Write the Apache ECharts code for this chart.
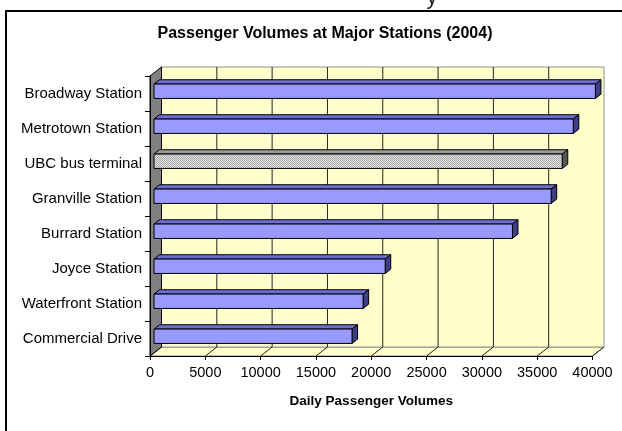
<!DOCTYPE html>
<html>
<head>
<meta charset="utf-8">
<script src="https://cdn.jsdelivr.net/npm/echarts@6/dist/echarts.min.js"></script>
<style>
  html, body { margin: 0; padding: 0; background: #fff; }
  #chart { width: 622px; height: 431px; }
</style>
</head>
<body>
<div id="chart"></div>
<script>
// data
const stations = [
    'Broadway Station',
    'Metrotown Station',
    'UBC bus terminal',
    'Granville Station',
    'Burrard Station',
    'Joyce Station',
    'Waterfront Station',
    'Commercial Drive'
]
const volumes = [39900, 37900, 36900, 35900, 32400, 20900, 18900, 17900]
const xMin = 0
const xMax = 40000
const xStep = 5000
const highlighted = 'UBC bus terminal'

const FONT = '"Liberation Sans", Arial, sans-serif'
// 3d depth offsets of the walls and of the bars
const DX = 11.5
const DY = -9
const F0 = 0.35
const F1 = 0.83
const BAR_H = 14.4

// dotted grey fill for the highlighted bar
const patCanvas = document.createElement('canvas')
patCanvas.width = 2
patCanvas.height = 2
const pctx = patCanvas.getContext('2d')
pctx.fillStyle = '#E4E4E4'
pctx.fillRect(0, 0, 2, 2)
pctx.fillStyle = '#A8A8A8'
pctx.fillRect(0, 0, 1, 1)
pctx.fillRect(1, 1, 1, 1)

function renderWalls(params, api) {
    const cs = params.coordSys
    const L = cs.x, T = cs.y, R = cs.x + cs.width, B = cs.y + cs.height
    const children = []
    children.push({
        type: 'polygon',
        shape: { points: [[L, B], [L + DX, B + DY], [R + DX, B + DY], [R, B]] },
        style: { fill: '#FFFFCC', stroke: '#808080', lineWidth: 1 }
    })
    children.push({
        type: 'rect',
        shape: { x: L + DX, y: T + DY, width: R - L, height: B - T },
        style: { fill: '#FFFFCC', stroke: '#909090', lineWidth: 1 }
    })
    for (let v = xMin; v <= xMax; v += xStep) {
        const x = api.coord([v, 0])[0]
        if (v > xMin && v < xMax) {
            children.push({
                type: 'line',
                shape: { x1: x + DX, y1: T + DY, x2: x + DX, y2: B + DY },
                style: { stroke: '#222', lineWidth: 1 }
            })
        }
        children.push({
            type: 'line',
            shape: { x1: x + DX, y1: B + DY, x2: x, y2: B },
            style: { stroke: '#222', lineWidth: 1 }
        })
    }
    children.push({
        type: 'polygon',
        shape: { points: [[L, T], [L + DX, T + DY], [L + DX, B + DY], [L, B]] },
        style: { fill: '#808080', stroke: '#000', lineWidth: 1 }
    })
    return { type: 'group', children: children }
}

function renderBar(params, api) {
    const idx = api.value(1)
    const v = api.value(0)
    const p0 = api.coord([0, idx])
    const p1 = api.coord([v, idx])
    const x0 = p0[0] + F0 * DX
    const x1 = p1[0] + F0 * DX
    const top = p0[1] + F0 * DY - BAR_H / 2 + 0.9
    const bot = top + BAR_H
    const ddx = (F1 - F0) * DX
    const ddy = (F1 - F0) * DY
    const grey = stations[idx] === highlighted
    const face = grey ? { image: patCanvas, repeat: 'repeat' } : '#9999FF'
    const topFill = grey ? '#9A9A9A' : '#6E6ED2'
    const sideFill = grey ? '#555555' : '#3E3E86'
    const edge = { stroke: '#000', lineWidth: 1 }
    return {
        type: 'group',
        children: [
            {
                type: 'polygon',
                shape: { points: [[x0, top], [x1, top], [x1 + ddx, top + ddy], [x0 + ddx, top + ddy]] },
                style: Object.assign({ fill: topFill }, edge)
            },
            {
                type: 'polygon',
                shape: { points: [[x1, top], [x1 + ddx, top + ddy], [x1 + ddx, bot + ddy], [x1, bot]] },
                style: Object.assign({ fill: sideFill }, edge)
            },
            {
                type: 'rect',
                shape: { x: x0, y: top, width: x1 - x0, height: BAR_H },
                style: Object.assign({ fill: face }, edge)
            }
        ]
    }
}

const chart = echarts.init(document.getElementById('chart'))
chart.setOption({
    animation: false,
    backgroundColor: '#fff',
    graphic: [
        {
            type: 'rect',
            z: -10,
            shape: { x: 6, y: 11, width: 700, height: 500 },
            style: { fill: 'none', stroke: '#000', lineWidth: 2 }
        },
        {
            type: 'text',
            x: 432,
            y: 9,
            style: {
                text: 'y',
                font: '22px ' + FONT,
                fill: '#222',
                textAlign: 'center',
                textVerticalAlign: 'bottom'
            }
        },
        {
            type: 'text',
            x: 325,
            y: 34,
            style: {
                text: 'Passenger Volumes at Major Stations (2004)',
                font: 'bold 16px ' + FONT,
                fill: '#000',
                textAlign: 'center',
                textVerticalAlign: 'middle'
            }
        }
    ],
    grid: {
        left: 150,
        right: 29.5,
        top: 76,
        bottom: 75
    },
    xAxis: {
        type: 'value',
        min: xMin,
        max: xMax,
        interval: xStep,
        z: 10,
        name: 'Daily Passenger Volumes',
        nameLocation: 'middle',
        nameGap: 38,
        nameTextStyle: {
            fontFamily: FONT,
            fontSize: 13.5,
            fontWeight: 'bold',
            color: '#000'
        },
        axisLine: { show: true, lineStyle: { color: '#000', width: 1 } },
        axisTick: { show: true, length: 4, lineStyle: { color: '#000' } },
        axisLabel: {
            margin: 9,
            fontFamily: FONT,
            fontSize: 14.5,
            color: '#000',
            formatter: v => String(v)
        },
        splitLine: { show: false }
    },
    yAxis: {
        type: 'category',
        data: stations,
        inverse: true,
        z: 10,
        axisLine: { show: true, lineStyle: { color: '#000', width: 1 } },
        axisTick: { show: true, length: 5, lineStyle: { color: '#000' } },
        axisLabel: {
            margin: 8,
            fontFamily: FONT,
            fontSize: 15,
            color: '#000'
        },
        splitLine: { show: false }
    },
    series: [
        {
            type: 'custom',
            z: 1,
            silent: true,
            renderItem: renderWalls,
            data: [[0, 0]]
        },
        {
            type: 'custom',
            z: 3,
            renderItem: renderBar,
            encode: { x: 0, y: 1 },
            data: volumes.map((v, i) => [v, i])
        }
    ]
})
</script>
</body>
</html>
